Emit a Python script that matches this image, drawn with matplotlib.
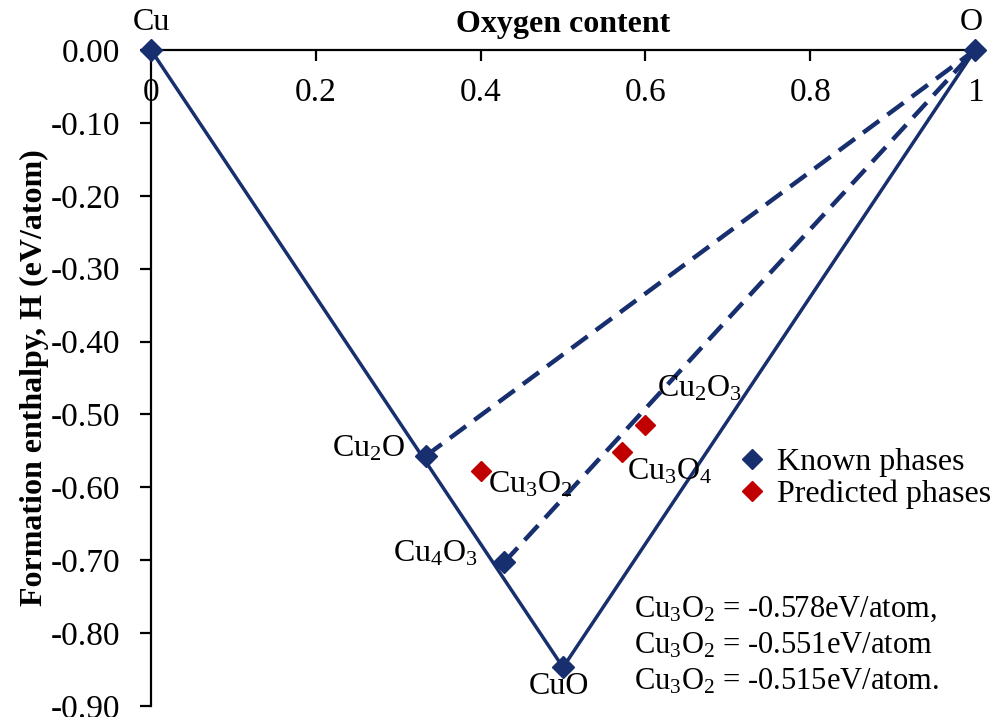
import matplotlib
matplotlib.use("Agg")
import matplotlib.pyplot as plt
from matplotlib.lines import Line2D

plt.rcParams['font.family'] = ['Liberation Serif', 'DejaVu Serif']
plt.rcParams['mathtext.fontset'] = 'custom'
plt.rcParams['mathtext.rm'] = 'Liberation Serif'
plt.rcParams['mathtext.it'] = 'Liberation Serif:italic'
plt.rcParams['mathtext.bf'] = 'Liberation Serif:bold'
plt.rcParams['axes.unicode_minus'] = False

# ---- data ----
known_names = ['Cu', 'Cu$\\mathregular{_2}$O', 'Cu$\\mathregular{_4}$O$\\mathregular{_3}$', 'CuO', 'O']
known_x = [0.0, 1/3, 3/7, 0.5, 1.0]
known_h = [0.0, -0.557, -0.703, -0.847, 0.0]

hull_x = [0.0, 0.5, 1.0]
hull_h = [0.0, -0.847, 0.0]

dash1_x = [1/3, 1.0]
dash1_h = [-0.557, 0.0]
dash2_x = [3/7, 1.0]
dash2_h = [-0.703, 0.0]

pred_names = ['Cu$\\mathregular{_3}$O$\\mathregular{_2}$', 'Cu$\\mathregular{_3}$O$\\mathregular{_4}$', 'Cu$\\mathregular{_2}$O$\\mathregular{_3}$']
pred_x = [0.4, 4/7, 0.6]
pred_h = [-0.578, -0.551, -0.515]

x_ticks = [0, 0.2, 0.4, 0.6, 0.8, 1.0]
x_ticklabels = ['0', '0.2', '0.4', '0.6', '0.8', '1']
y_ticks = [0.0, -0.1, -0.2, -0.3, -0.4, -0.5, -0.6, -0.7, -0.8, -0.9]
y_ticklabels = ['0.00', '-0.10', '-0.20', '-0.30', '-0.40', '-0.50', '-0.60', '-0.70', '-0.80', '-0.90']

note_lines = ['Cu$\\mathregular{_3}$O$\\mathregular{_2}$ = -0.578eV/atom,',
              'Cu$\\mathregular{_3}$O$\\mathregular{_2}$ = -0.551eV/atom',
              'Cu$\\mathregular{_3}$O$\\mathregular{_2}$ = -0.515eV/atom.']

NAVY = '#172F6E'
RED = '#C00000'
FS_TICK = 24
FS = 23
FS_NOTE = 22

W, H = 1004, 717
fig = plt.figure(figsize=(W/100, H/100), dpi=100)
ax = fig.add_axes([151/W, 1-706/H, (975-151)/W, (706-50)/H])

ax.plot(hull_x, hull_h, color=NAVY, lw=2.5, zorder=2, clip_on=False)
ax.plot(dash1_x, dash1_h, color=NAVY, lw=3.2, dashes=(4.5, 2.3), zorder=2, clip_on=False)
ax.plot(dash2_x, dash2_h, color=NAVY, lw=3.2, dashes=(4.5, 2.3), zorder=2, clip_on=False)
ax.plot(known_x, known_h, ls='none', marker='D', ms=11, color=NAVY, zorder=3, clip_on=False)
ax.plot(pred_x, pred_h, ls='none', marker='D', ms=10, color=RED, zorder=3, clip_on=False)

ax.set_xlim(0, 1)
ax.set_ylim(-0.9, 0)

ax.spines['top'].set_visible(False)
ax.spines['right'].set_visible(False)
ax.spines['bottom'].set_position(('data', 0))
for s in ('bottom', 'left'):
    ax.spines[s].set_linewidth(1.6)
    ax.spines[s].set_zorder(1)

ax.set_xticks(x_ticks)
ax.set_xticklabels(x_ticklabels)
ax.set_yticks(y_ticks)
ax.set_yticklabels(y_ticklabels)
ax.tick_params(axis='both', direction='out', length=8, width=1.6, labelsize=FS_TICK)
ax.tick_params(axis='x', pad=12)
ax.tick_params(axis='y', pad=14)

ax.xaxis.set_label_position('top')
ax.set_xlabel('Oxygen content', fontsize=FS, fontweight='bold', labelpad=13)
ax.set_ylabel('Formation enthalpy, H (eV/atom)', fontsize=FS, fontweight='bold', labelpad=1)

# point labels (offsets in points)
known_off = [(0, 20, 'center'), (-15, 5, 'right'), (-19, 6.5, 'right'), (-3, -14, 'center'), (-3, 20, 'center')]
for name, x, h, (dx, dy, ha) in zip(known_names, known_x, known_h, known_off):
    ax.annotate(name, (x, h), xytext=(dx, dy), textcoords='offset points',
                ha=ha, va='center', fontsize=FS, annotation_clip=False)
pred_off = [(5, -10, 'left'), (3.6, -14.4, 'left'), (8.6, 26.6, 'left')]
for name, x, h, (dx, dy, ha) in zip(pred_names, pred_x, pred_h, pred_off):
    ax.annotate(name, (x, h), xytext=(dx, dy), textcoords='offset points',
                ha=ha, va='center', fontsize=FS, annotation_clip=False)

handles = [Line2D([], [], ls='none', marker='D', ms=10, color=NAVY),
           Line2D([], [], ls='none', marker='D', ms=10, color=RED)]
fig.legend(handles, ['Known phases', 'Predicted phases'], loc='upper left',
           bbox_to_anchor=(739/W, 1-448/H), frameon=False, fontsize=FS,
           borderpad=0, borderaxespad=0, handlelength=0.8, handletextpad=0.4,
           labelspacing=0.08, numpoints=1)

for i, line in enumerate(note_lines):
    fig.text(634/W, 1-(609 + 36.5*i)/H, line, fontsize=FS_NOTE, ha='left', va='center')

fig.savefig('out.png', dpi=100)
